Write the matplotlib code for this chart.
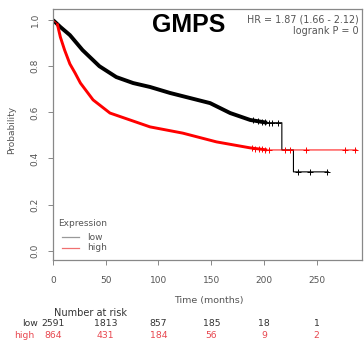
import matplotlib
matplotlib.use('Agg')
import matplotlib.pyplot as plt

# survival curves (time in months, probability)
low_t = [0, 7, 16, 28, 44, 60, 76, 92, 111, 130, 149, 168, 187, 203, 217, 217, 228, 228, 261]
low_s = [1.0, 0.97, 0.935, 0.87, 0.80, 0.753, 0.727, 0.71, 0.684, 0.662, 0.64, 0.597, 0.567, 0.555, 0.555, 0.437, 0.437, 0.342, 0.342]
low_dense = 14          # points up to here are crowded with censor marks

high_t = [0, 4, 7, 11, 16, 21, 26, 38, 54, 73, 92, 123, 155, 187, 203, 288]
high_s = [1.0, 0.985, 0.926, 0.87, 0.81, 0.77, 0.727, 0.654, 0.597, 0.567, 0.537, 0.51, 0.472, 0.446, 0.437, 0.437]
high_dense = 15

# censor marks in the sparse tail
low_cens_t = [190, 194, 198, 201, 205, 208, 213, 232, 244, 260]
low_cens_s = [0.566, 0.562, 0.559, 0.557, 0.555, 0.555, 0.555, 0.342, 0.342, 0.342]
high_cens_t = [189, 192, 195, 198, 201, 205, 220, 225, 240, 277, 286]
high_cens_s = [0.445, 0.443, 0.441, 0.44, 0.438, 0.437, 0.437, 0.437, 0.437, 0.437, 0.437]

risk_times = [0, 50, 100, 150, 200, 250]
risk_low = [2591, 1813, 857, 185, 18, 1]
risk_high = [864, 431, 184, 56, 9, 2]

title = 'GMPS'
hr_text = 'HR = 1.87 (1.66 - 2.12)'
p_text = 'logrank P = 0'

plt.rcParams['font.family'] = ['DejaVu Sans']
grey = '#555555'
red_txt = '#e8474f'

fig = plt.figure(figsize=(3.64, 3.47), dpi=100)
ax = fig.add_axes([53/364, 1-260/347, 309/364, 251/347])

ax.plot(low_t, low_s, color='black', lw=0.8)
ax.plot(low_t[:low_dense], low_s[:low_dense], color='black', lw=2.8,
        solid_capstyle='butt', solid_joinstyle='round')
ax.plot(high_t, high_s, color='red', lw=0.7)
ax.plot(high_t[1:high_dense], high_s[1:high_dense], color='red', lw=2.1,
        solid_capstyle='butt', solid_joinstyle='round')
ax.plot(low_cens_t, low_cens_s, ls='none', marker='+', ms=4, mew=0.7, color='black')
ax.plot(high_cens_t, high_cens_s, ls='none', marker='+', ms=4, mew=0.7, color='red')

ax.set_xlim(0, 293)
ax.set_ylim(-0.04, 1.048)
for s in ax.spines.values():
    s.set_color('#888888')
    s.set_linewidth(0.9)

ax.set_xticks(risk_times)
ax.set_yticks([0, 0.2, 0.4, 0.6, 0.8, 1.0])
ax.set_yticklabels(['0.0', '0.2', '0.4', '0.6', '0.8', '1.0'], rotation=90, va='center')
ax.tick_params(axis='both', direction='out', length=3.6, width=0.7, color='#888888',
               labelsize=6.5, labelcolor=grey)
ax.tick_params(axis='x', pad=8)
ax.tick_params(axis='y', pad=6)

fig.text(12/364, 1-130/347, 'Probability', rotation=90, ha='center', va='center', fontsize=6.5, color=grey)
fig.text(209/364, 1-300/347, 'Time (months)', ha='center', va='center', fontsize=6.8, color=grey)

ax.text(0.44, 0.935, title, transform=ax.transAxes, ha='center', va='center',
        fontsize=18, fontweight='bold', family='Liberation Sans')
fig.text(359/364, 1-20/347, hr_text, ha='right', va='center', fontsize=6.9, color=grey)
fig.text(359/364, 1-31/347, p_text, ha='right', va='center', fontsize=6.9, color=grey)

# legend drawn by hand like the R one
fig.text(58/364, 1-223/347, 'Expression', ha='left', va='center', fontsize=6.5, color=grey)
fig.text(87/364, 1-237/347, 'low', ha='left', va='center', fontsize=6.5, color=grey)
fig.text(87/364, 1-248/347, 'high', ha='left', va='center', fontsize=6.5, color=grey)
fig.add_artist(plt.Line2D([62/364, 79/364], [1-237/347, 1-237/347], color='#999999', lw=0.9))
fig.add_artist(plt.Line2D([62/364, 79/364], [1-248/347, 1-248/347], color='#f07070', lw=0.9))

# number at risk table
fig.text(90/364, 1-313/347, 'Number at risk', ha='center', va='center', fontsize=7, color='#333333')
fig.text(38/364, 1-324/347, 'low', ha='right', va='center', fontsize=6.7, color='#333333')
fig.text(34/364, 1-335/347, 'high', ha='right', va='center', fontsize=6.7, color=red_txt)
for t, a, b in zip(risk_times, risk_low, risk_high):
    xf = (53 + t * 1.055) / 364
    fig.text(xf, 1-324/347, str(a), ha='center', va='center', fontsize=6.7, color='#333333')
    fig.text(xf, 1-335/347, str(b), ha='center', va='center', fontsize=6.7, color=red_txt)

fig.savefig('out.png', dpi=100)
